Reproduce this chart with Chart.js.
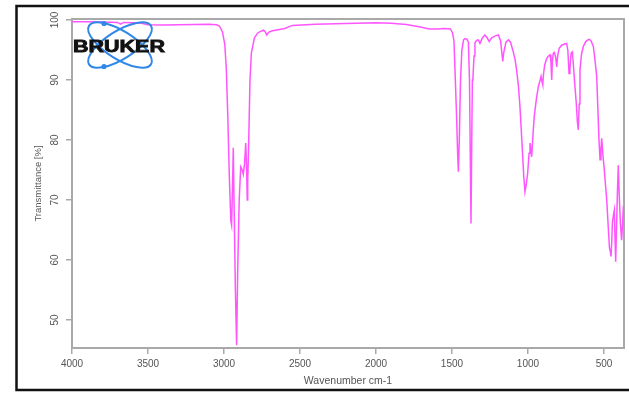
<!DOCTYPE html>
<html>
<head>
<meta charset="utf-8">
<title>IR spectrum</title>
<script src="https://cdn.jsdelivr.net/npm/chart.js@4.4.1/dist/chart.umd.min.js"></script>
<style>
  html, body { margin: 0; padding: 0; background: #fff; }
  #wrap { width: 629px; height: 393px; }
</style>
</head>
<body>
<div id="wrap"><canvas id="spec" width="629" height="393"></canvas></div>
<script>
// ------------------------------------------------------
// data (wavenumber cm-1 / transmittance %)
// ------------------------------------------------------
const wavenumbers = [
  4000, 3900, 3800, 3700, 3680, 3660, 3550, 3500, 3400, 3300, 3200, 3100, 3050, 3030, 3010,
  2995, 2985, 2975, 2965, 2955, 2950, 2944, 2939, 2934, 2925, 2917, 2910, 2900, 2890, 2880,
  2873, 2865, 2857, 2852, 2847, 2844, 2838, 2829, 2820, 2800, 2780, 2760, 2740, 2728, 2719,
  2705, 2680, 2600, 2550, 2400, 2200, 2000, 1900, 1800, 1700, 1650, 1600, 1550, 1510, 1496,
  1487, 1478, 1470, 1462, 1458, 1452, 1444, 1435, 1424, 1414, 1402, 1392, 1385, 1380, 1375,
  1370, 1366, 1362, 1355, 1349, 1338, 1327, 1316, 1300, 1283, 1268, 1255, 1240, 1228, 1210,
  1195, 1180, 1170, 1166, 1160, 1145, 1129, 1115, 1097, 1085, 1075, 1063, 1053, 1045, 1037,
  1028, 1020, 1012, 1002, 993, 987, 982, 976, 968, 959, 945, 932, 920, 914, 907,
  903, 898, 890, 877, 865, 855, 849, 844, 840, 834, 827, 818, 811, 805, 795,
  778, 760, 746, 738, 730, 724, 716, 708, 700, 691, 682, 675, 669, 663, 658,
  648, 636, 620, 599, 585, 570, 560, 548, 540, 533, 526, 520, 515, 507, 498,
  490, 482, 472, 464, 459, 454, 449, 445, 438, 432, 427, 423, 418, 412, 406,
  400, 392, 384, 378, 373, 368
];
const transmittance = [
  99.7, 99.7, 99.65, 99.6, 99.3, 99.6, 99.5, 99.2, 99.15, 99.2, 99.25, 99.3, 99.2, 99.0, 98.0,
  96.0, 92.0, 84.0, 74.0, 66.5, 65.8, 72.0, 78.7, 70.0, 55.0, 45.8, 58.0, 70.0, 75.5, 75.0,
  74.3, 76.0, 79.5, 76.0, 70.0, 73.0, 79.0, 90.0, 94.5, 97.0, 97.8, 98.1, 98.3, 98.0, 97.5,
  98.0, 98.2, 98.6, 99.1, 99.3, 99.4, 99.55, 99.45, 99.25, 98.8, 98.5, 98.5, 98.6, 98.5, 97.8,
  96.5, 90.0, 84.0, 77.0, 74.7, 80.0, 90.0, 95.0, 96.7, 96.9, 96.8, 96.3, 90.0, 78.0, 66.1,
  80.0, 90.0, 90.5, 94.0, 96.2, 96.6, 96.7, 96.1, 97.0, 97.5, 97.0, 96.4, 97.0, 97.2, 97.4,
  97.5, 96.5, 94.0, 93.1, 94.5, 96.3, 96.7, 96.3, 94.7, 93.4, 91.7, 89.0, 85.6, 82.0, 78.3,
  74.0, 71.4, 72.5, 74.5, 77.8, 79.5, 78.5, 77.2, 80.5, 83.9, 86.8, 88.9, 90.0, 90.6, 89.6,
  89.2, 91.0, 92.5, 93.6, 94.0, 94.2, 93.0, 90.0, 93.0, 94.4, 94.6, 93.8, 92.2, 94.0, 95.3,
  95.8, 96.0, 96.1, 95.0, 91.1, 92.0, 94.5, 94.7, 92.0, 88.9, 86.0, 83.0, 81.7, 86.0, 91.7,
  94.3, 95.6, 96.4, 96.8, 96.5, 95.6, 93.5, 90.6, 85.0, 80.0, 76.7, 78.5, 80.3, 77.5, 75.0,
  72.5, 70.0, 65.5, 62.0, 61.5, 60.6, 63.0, 66.1, 67.5, 68.3, 63.0, 59.7, 65.0, 71.0, 75.8,
  71.0, 66.0, 63.3, 66.0, 68.7, 68.5
];
const xTicks = [4000, 3500, 3000, 2500, 2000, 1500, 1000, 500];
const yTicks = [50, 60, 70, 80, 90, 100];

const AXIS_GRAY = "#a9a9a9";
const TEXT_GRAY = "#555";

// ------------------------------------------------------
// plot box, outer frame and the Bruker logo
// ------------------------------------------------------
const decorations = {
    id: "decorations",
    beforeDatasetsDraw(chart) {
        const { ctx, chartArea: a } = chart;
        ctx.save();
        ctx.strokeStyle = AXIS_GRAY;
        ctx.lineWidth = 2;
        ctx.strokeRect(a.left, a.top, a.right - a.left, a.bottom - a.top);
        ctx.restore();
    },
    afterDraw(chart) {
        const ctx = chart.ctx;
        ctx.save();
        // outer black frame
        ctx.strokeStyle = "#111";
        ctx.lineWidth = 2.5;
        ctx.strokeRect(16.5, 6, 640, 384);

        // logo: two crossing orbits + dots + wordmark
        ctx.strokeStyle = "#2f88e8";
        ctx.fillStyle = "#2f88e8";
        ctx.lineWidth = 2;
        ctx.beginPath();
        ctx.ellipse(120, 45, 36.5, 14, 0.56, 0, Math.PI * 2);
        ctx.stroke();
        ctx.beginPath();
        ctx.ellipse(120, 45, 36.5, 14, -0.56, 0, Math.PI * 2);
        ctx.stroke();
        ctx.beginPath(); ctx.arc(104, 23.5, 2.6, 0, Math.PI * 2); ctx.fill();
        ctx.beginPath(); ctx.arc(104, 66.5, 2.6, 0, Math.PI * 2); ctx.fill();

        ctx.font = "bold 16px 'Liberation Sans', Arial, sans-serif";
        ctx.textBaseline = "alphabetic";
        const w = ctx.measureText("BRUKER").width;
        ctx.translate(73, 52);
        ctx.scale(92 / w, 1);
        ctx.fillStyle = "#111";
        ctx.strokeStyle = "#111";
        ctx.lineWidth = 0.8;
        ctx.fillText("BRUKER", 0, 0);
        ctx.strokeText("BRUKER", 0, 0);
        ctx.restore();
    }
};

// ------------------------------------------------------
// chart
// ------------------------------------------------------
const points = wavenumbers.map((wn, i) => ({ x: wn, y: transmittance[i] }));

new Chart(document.getElementById("spec"), {
    type: "line",
    data: {
        datasets: [{
            data: points,
            borderColor: "#ff55ff",
            borderWidth: 1.5,
            pointRadius: 0,
            tension: 0,
            fill: false
        }]
    },
    options: {
        responsive: false,
        animation: false,
        events: [],
        layout: { padding: { top: 19, right: 5, left: 0, bottom: 0 } },
        plugins: { legend: { display: false }, tooltip: { enabled: false } },
        scales: {
            x: {
                type: "linear",
                reverse: true,
                min: 368.4,
                max: 4000,
                afterBuildTicks: s => { s.ticks = xTicks.map(v => ({ value: v })); },
                afterFit: s => { s.height = 45; },
                border: { display: false },
                grid: { drawOnChartArea: false, drawTicks: true, tickLength: 6, tickColor: AXIS_GRAY, lineWidth: 1.5 },
                ticks: {
                    padding: 4,
                    color: TEXT_GRAY,
                    maxRotation: 0,
                    font: { family: "'Liberation Sans', Arial, sans-serif", size: 10 },
                    callback: v => String(v)
                },
                title: {
                    display: true,
                    text: "Wavenumber cm-1",
                    color: TEXT_GRAY,
                    padding: { top: 0, bottom: 6 },
                    font: { family: "'Liberation Sans', Arial, sans-serif", size: 10.5 }
                }
            },
            y: {
                min: 45.33,
                max: 100.17,
                afterBuildTicks: s => { s.ticks = yTicks.map(v => ({ value: v })); },
                afterFit: s => { s.width = 72; },
                border: { display: false },
                grid: { drawOnChartArea: false, drawTicks: true, tickLength: 6, tickColor: AXIS_GRAY, lineWidth: 1.5 },
                ticks: {
                    padding: 2,
                    color: TEXT_GRAY,
                    minRotation: 90,
                    maxRotation: 90,
                    crossAlign: "center",
                    font: { family: "'Liberation Sans', Arial, sans-serif", size: 10 },
                    callback: v => String(v)
                },
                title: {
                    display: true,
                    text: "Transmittance [%]",
                    color: TEXT_GRAY,
                    padding: { top: 33, bottom: 0 },
                    font: { family: "'Liberation Sans', Arial, sans-serif", size: 9.5 }
                }
            }
        }
    },
    plugins: [decorations]
});
</script>
</body>
</html>
